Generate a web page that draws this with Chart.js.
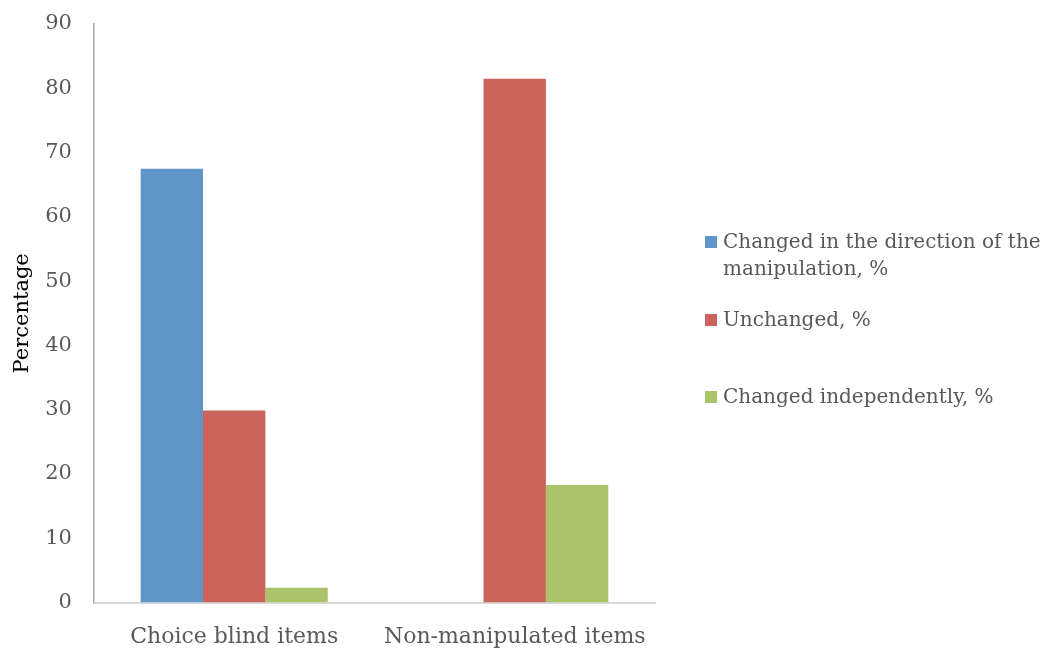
<!DOCTYPE html>
<html>
<head>
<meta charset="utf-8">
<script src="https://cdn.jsdelivr.net/npm/chart.js@4"></script>
<style>
    body { margin: 0; background: #fff; }
    #wrap { position: relative; width: 1053px; height: 650px; }
    #myChart { position: absolute; left: 0; top: 0; }
    #legend {
        position: absolute; left: 705px; top: 228px; width: 345px;
        font-family: 'DejaVu Serif', serif; font-size: 20px; line-height: 27px; color: #595959;
    }
    .legend-item { position: relative; padding-left: 18px; }
    .legend-box { position: absolute; left: 0; top: 8px; width: 12px; height: 12px; }
</style>
</head>
<body>
<div id="wrap">
    <canvas id="myChart" width="1053" height="650"></canvas>
    <div id="legend"></div>
</div>
<script>
const CATEGORIES = ['Choice blind items', 'Non-manipulated items'];
const SERIES_NAMES = ['Changed in the direction of the manipulation, %', 'Unchanged, %', 'Changed independently, %'];
const CHANGED_DIRECTION = [67.5, 0];
const UNCHANGED = [29.9, 81.5];
const CHANGED_INDEPENDENTLY = [2.3, 18.3];
const Y_TICKS = [0, 10, 20, 30, 40, 50, 60, 70, 80, 90];
const COLORS = ['#5f95c9', '#cb645b', '#abc46a'];
const LEGEND_GAPS = ['24px', '50px', '0px'];  // spacing under each legend entry


function renderChart() {
    drawChart();
    renderLegend();
}


function getDatasets() {
    let values = [CHANGED_DIRECTION, UNCHANGED, CHANGED_INDEPENDENTLY];
    let datasets = [];
    for (let i = 0; i < values.length; i++) {
        datasets.push({
            label: SERIES_NAMES[i],
            data: values[i],
            backgroundColor: COLORS[i],
            borderWidth: 0
        });
    }
    return datasets;
}


function drawChart() {
    const ctx = document.getElementById('myChart').getContext('2d');
    const myChart = new Chart(ctx, {
        type: 'bar',
        data: {
            labels: CATEGORIES,
            datasets: getDatasets()
        },
        options: {
            responsive: false,
            animation: false,
            categoryPercentage: 0.667,
            barPercentage: 1,
            layout: {
                padding: { left: 10, right: 398, top: 24, bottom: 0 }
            },
            plugins: {
                legend: { display: false },
                tooltip: { enabled: false }
            },
            scales: {
                x: {
                    grid: { display: false, tickLength: 21 },
                    border: { color: '#d9d9d9', width: 2 },
                    ticks: {
                        color: '#595959',
                        padding: 0,
                        font: { family: 'DejaVu Serif', size: 22 }
                    }
                },
                y: {
                    min: 0,
                    max: 90,
                    afterBuildTicks: (axis) => { axis.ticks = Y_TICKS.map(v => ({ value: v })); },
                    grid: { display: false, tickLength: 17 },
                    border: { color: '#a6a6a6', width: 1.5 },
                    ticks: {
                        color: '#595959',
                        padding: 5,
                        font: { family: 'DejaVu Serif', size: 21 }
                    },
                    title: {
                        display: true,
                        text: 'Percentage',
                        color: '#000',
                        padding: { top: 0, bottom: 5 },
                        font: { family: 'DejaVu Serif', size: 21 }
                    }
                }
            }
        }
    });
}


function renderLegend() {
    let legend = document.getElementById('legend');
    for (let i = 0; i < SERIES_NAMES.length; i++) {
        legend.innerHTML += `
            <div class="legend-item" style="margin-bottom: ${LEGEND_GAPS[i]}">
                <span class="legend-box" style="background: ${COLORS[i]}"></span>${SERIES_NAMES[i]}
            </div>`;
    }
}


renderChart();
</script>
</body>
</html>
